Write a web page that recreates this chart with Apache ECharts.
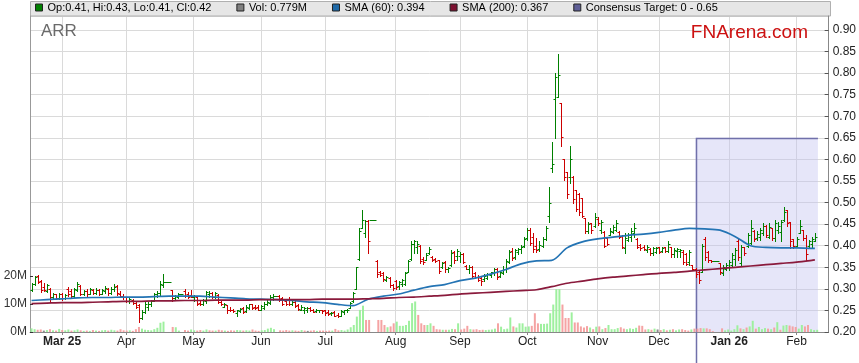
<!DOCTYPE html>
<html>
<head>
<meta charset="utf-8">
<script src="https://cdn.jsdelivr.net/npm/echarts/dist/echarts.min.js"></script>
<style>
  html, body { margin: 0; padding: 0; background: #ffffff; }
  #chart { width: 859px; height: 363px; }
</style>
</head>
<body>
<div id="chart"></div>
<script>
// ---------------- DATA ----------------
const ticker = 'ARR';
const firstDay = '2025-02-17';      // first trading day shown
const axisEndDay = '2026-02-16';    // axis runs a few empty days past the last bar

// month-start tick dates and their labels
const tickDates  = ['2025-03-03','2025-04-01','2025-05-01','2025-06-02','2025-07-01','2025-08-01',
                    '2025-09-01','2025-10-01','2025-11-03','2025-12-01','2026-01-01','2026-02-02'];
const tickLabels = ['Mar 25','Apr','May','Jun','Jul','Aug','Sep','Oct','Nov','Dec','Jan 26','Feb'];

const open = [
 .298,.312,.330,.318,.305,.296,.300,.280,.287,.279,
 .288,.278,.300,.296,.284,.298,.306,.288,.295,.288,
 .297,.291,.298,.289,.295,.300,.290,.300,.307,.289,
 .284,.280,.272,.275,.268,.262,.232,.247,.258,.266,
 .272,.288,.290,.310,.315,.315,.298,.278,.282,.287,
 .296,.288,.286,.280,.280,.268,.264,.272,.288,.290,
 .282,.286,.270,.258,.262,.252,.250,.244,.248,.256,
 .248,.256,.264,.258,.258,.252,.256,.264,.268,.280,
 .284,.284,.278,.272,.275,.266,.270,.262,.252,.252,
 .250,.256,.252,.248,.250,.250,.250,.246,.244,.246,
 .240,.236,.246,.250,.256,.272,.300,.370,.440,.430,
 .458,.460,.460,.365,.338,.336,.320,.326,.310,.318,
 .306,.312,.312,.340,.370,.405,.398,.400,.370,.368,
 .382,.375,.370,.366,.350,.362,.345,.356,.385,.376,
 .376,.380,.354,.347,.350,.336,.328,.326,.322,.326,
 .332,.336,.345,.330,.336,.346,.362,.388,.374,.385,
 .392,.400,.418,.436,.420,.400,.392,.400,.415,.470,
 .580,.740,.745,.730,.600,.570,.560,.560,.530,.520,
 .510,.465,.435,.452,.445,.462,.436,.432,.418,.426,
 .432,.436,.432,.422,.395,.414,.420,.430,.415,.402,
 .398,.390,.392,.384,.386,.396,.388,.396,.388,.398,
 .380,.388,.388,.386,.380,.362,.355,.346,.340,.340,
 .415,.386,.366,.365,.365,.360,.336,.346,.350,.356,
 .370,.410,.360,.398,.400,.406,.434,.418,.420,.430,
 .446,.420,.440,.418,.436,.432,.460,.483,.455,.415,
 .400,.430,.437,.417,.400,.404,.410
];
const high = [
 .313,.330,.331,.320,.313,.312,.302,.290,.289,.290,
 .290,.288,.304,.300,.302,.317,.308,.298,.300,.302,
 .300,.302,.300,.300,.306,.302,.304,.311,.309,.296,
 .288,.281,.278,.277,.272,.266,.250,.270,.270,.274,
 .290,.294,.318,.335,.315,.315,.298,.286,.290,.287,
 .300,.292,.297,.286,.282,.272,.276,.296,.294,.292,
 .292,.288,.272,.267,.262,.258,.254,.252,.256,.258,
 .262,.266,.265,.262,.262,.262,.270,.274,.286,.288,
 .284,.286,.280,.274,.280,.274,.272,.264,.262,.258,
 .258,.258,.254,.254,.252,.252,.252,.250,.246,.248,
 .244,.251,.252,.253,.270,.292,.351,.440,.482,.460,
 .460,.460,.460,.368,.342,.340,.330,.328,.312,.320,
 .318,.322,.340,.368,.412,.413,.410,.402,.375,.382,
 .398,.376,.372,.368,.362,.364,.350,.390,.388,.392,
 .386,.382,.355,.356,.352,.338,.332,.328,.334,.337,
 .340,.349,.348,.342,.352,.370,.390,.394,.392,.394,
 .402,.421,.440,.440,.430,.417,.410,.421,.446,.537,
 .640,.800,.845,.730,.602,.572,.630,.562,.530,.522,
 .510,.465,.455,.452,.475,.466,.460,.433,.421,.440,
 .448,.460,.433,.425,.430,.430,.440,.452,.417,.405,
 .402,.402,.394,.398,.398,.398,.398,.398,.410,.398,
 .394,.394,.392,.390,.382,.390,.355,.348,.344,.405,
 .420,.388,.368,.365,.365,.360,.355,.359,.367,.382,
 .394,.417,.402,.398,.429,.460,.437,.433,.440,.452,
 .448,.452,.440,.460,.456,.460,.490,.483,.456,.415,
 .421,.460,.437,.425,.413,.421,.430
];
const low = [
 .296,.310,.313,.292,.294,.292,.270,.276,.276,.276,
 .275,.276,.284,.282,.282,.296,.285,.286,.284,.287,
 .288,.288,.285,.287,.291,.286,.288,.296,.286,.282,
 .276,.270,.268,.266,.255,.224,.230,.245,.252,.260,
 .272,.282,.286,.305,.315,.315,.272,.274,.278,.287,
 .282,.278,.280,.272,.262,.262,.262,.268,.280,.278,
 .278,.268,.262,.257,.245,.248,.246,.238,.246,.243,
 .246,.254,.254,.254,.250,.250,.254,.262,.266,.274,
 .284,.272,.262,.262,.262,.262,.258,.252,.250,.243,
 .246,.248,.246,.246,.246,.244,.240,.240,.240,.236,
 .234,.236,.242,.246,.256,.270,.299,.368,.440,.421,
 .382,.460,.460,.328,.330,.318,.318,.305,.298,.300,
 .300,.306,.309,.338,.367,.382,.383,.360,.358,.366,
 .380,.365,.362,.336,.348,.340,.340,.352,.360,.368,
 .362,.360,.345,.337,.325,.325,.318,.309,.318,.324,
 .328,.332,.324,.328,.334,.340,.360,.367,.370,.380,
 .384,.398,.413,.402,.386,.386,.388,.398,.413,.456,
 .572,.649,.745,.630,.552,.510,.545,.500,.480,.472,
 .466,.430,.430,.430,.444,.448,.430,.396,.402,.425,
 .429,.433,.417,.394,.382,.410,.410,.420,.394,.390,
 .390,.386,.379,.379,.382,.382,.386,.386,.386,.375,
 .375,.375,.373,.358,.355,.355,.344,.328,.314,.338,
 .367,.363,.363,.365,.365,.334,.332,.344,.344,.351,
 .355,.367,.352,.378,.398,.405,.410,.413,.413,.425,
 .420,.417,.413,.410,.429,.410,.458,.445,.394,.394,
 .398,.429,.413,.367,.398,.398,.410
];
const close = [
 .312,.328,.316,.298,.298,.308,.282,.287,.279,.288,
 .278,.286,.288,.284,.300,.312,.288,.295,.287,.299,
 .291,.298,.288,.297,.302,.290,.300,.305,.290,.284,
 .280,.272,.276,.268,.258,.232,.247,.265,.266,.272,
 .288,.291,.312,.315,.315,.315,.278,.284,.287,.287,
 .284,.280,.282,.284,.266,.264,.274,.292,.290,.282,
 .290,.270,.264,.266,.251,.250,.248,.250,.254,.246,
 .258,.264,.256,.255,.252,.260,.266,.270,.282,.284,
 .284,.274,.266,.265,.264,.270,.260,.254,.258,.256,
 .256,.250,.247,.252,.250,.248,.244,.242,.244,.238,
 .236,.249,.250,.252,.268,.290,.350,.435,.460,.458,
 .410,.460,.460,.335,.332,.322,.328,.308,.302,.304,
 .316,.320,.336,.365,.405,.410,.405,.365,.362,.378,
 .392,.367,.364,.342,.360,.345,.348,.384,.366,.388,
 .380,.362,.347,.350,.330,.328,.320,.318,.330,.334,
 .338,.345,.328,.338,.346,.365,.385,.372,.390,.392,
 .398,.416,.436,.406,.392,.390,.402,.415,.440,.500,
 .590,.790,.796,.653,.560,.520,.600,.508,.485,.478,
 .470,.435,.450,.436,.466,.452,.455,.400,.405,.435,
 .444,.452,.420,.398,.418,.425,.434,.440,.398,.395,
 .392,.398,.384,.394,.394,.386,.394,.388,.404,.380,
 .390,.392,.390,.362,.358,.386,.346,.335,.320,.400,
 .375,.366,.365,.365,.365,.340,.350,.356,.362,.378,
 .390,.375,.398,.382,.424,.440,.416,.428,.436,.446,
 .425,.444,.418,.452,.446,.455,.478,.452,.410,.400,
 .415,.446,.418,.380,.410,.416,.420
];
// daily volume, millions of shares
const volumeM = [
 1.3,1.0,0.8,0.9,0.5,0.7,1.0,0.6,0.5,1.1,
 0.7,0.6,0.9,0.5,0.6,0.9,0.6,0.4,0.5,0.4,
 0.7,0.5,0.4,0.6,0.7,0.5,0.8,0.6,0.5,1.0,
 0.6,0.5,0.6,0.4,1.0,1.8,1.2,0.8,0.7,0.6,
 1.0,1.5,3.3,3.7,0,0,1.8,1.7,0.5,0,
 0.7,0.5,0.9,0.6,0.5,0.7,0.5,0.9,0.6,0.5,
 0.5,0.8,0.6,0.5,0.4,0.6,0.5,0.7,0.6,0.5,
 0.6,0.5,0.9,0.5,0.4,0.6,0.7,1.2,1.5,1.0,
 0,0.6,0.5,0.7,0.5,0.6,0.5,0.4,0.7,0.5,
 0.4,0.5,0.6,0.4,0.5,0.5,0.4,0.5,0.5,1.1,
 0.6,0.7,0.5,0.9,1.7,2.5,5.5,7.9,9.4,4.3,
 4.3,0,0,4.3,4.3,2.5,1.7,2.0,3.1,3.7,
 2.2,2.2,2.5,4.0,10.3,10.9,6.1,3.1,2.5,2.5,
 3.1,2.2,1.0,0.9,0.8,0.8,0.8,1.1,1.0,3.1,
 0.9,1.2,2.2,1.0,0.9,1.0,0.7,0.8,0.7,0.8,
 0.9,1.2,3.1,1.9,1.0,1.2,5.2,2.0,1.6,3.1,
 3.1,1.9,2.0,2.2,6.7,3.1,2.9,2.9,3.0,6.7,
 9.8,15.3,15.3,9.8,5.0,5.0,7.0,3.4,3.4,2.0,
 1.6,2.1,1.6,1.0,1.9,2.0,1.0,1.4,2.5,1.0,
 1.0,1.4,1.7,1.2,1.0,1.3,1.1,1.5,2.3,2.2,
 0.9,1.0,0.8,1.2,0.9,0.7,1.0,0.6,0.8,1.0,
 0.6,0.9,1.0,0.7,0.5,0.9,1.2,1.2,1.4,1.3,
 1.3,1.0,0.3,0,0,1.3,0.6,0.9,0.5,1.0,
 2.4,1.3,1.0,1.6,2.0,4.0,1.2,1.8,1.0,1.4,
 1.2,1.0,1.6,3.5,0.8,2.3,2.5,2.3,2.0,1.8,
 1.2,2.5,2.0,2.5,1.0,0.7,0.779
];
const smaStep = 5;
const sma60 = [
 .273,.275,.277,.279,.280,.280,.281,.281,.282,.283,
 .283,.283,.281,.279,.277,.276,.275,.273,.270,.268,
 .264,.261,.276,.283,.288,.297,.305,.310,.319,.325,
 .334,.345,.358,.365,.366,.395,.409,.416,.420,.424,
 .427,.431,.436,.440,.439,.436,.421,.400,.396,.395,
 .395,.394,.394
];
const sma200 = [
 .266,.267,.268,.268,.269,.270,.271,.271,.272,.272,
 .273,.273,.274,.274,.274,.275,.275,.275,.275,.276,
 .276,.276,.277,.278,.280,.281,.283,.285,.288,.290,
 .292,.294,.296,.298,.305,.313,.318,.323,.327,.330,
 .333,.336,.338,.341,.344,.347,.350,.353,.356,.359,
 .362,.366,.367
];
// consensus target band (runs from targetStart to the end of the last trading day)
const targetStart = '2025-12-17';
const targetLow = 0;
const targetHigh = 0.65;

// ---------------- BUILD ----------------
function weekdays(a, b) {
  const out = [];
  const d = new Date(a + 'T00:00:00Z'), e = new Date(b + 'T00:00:00Z');
  while (d <= e) {
    const w = d.getUTCDay();
    if (w !== 0 && w !== 6) out.push(d.toISOString().slice(0, 10));
    d.setUTCDate(d.getUTCDate() + 1);
  }
  return out;
}
const dates = weekdays(firstDay, axisEndDay);
const last = close.length - 1;
const lastDate = dates[last];
const targetEnd = dates[last + 1];

const FONT = '"Liberation Sans", Arial, sans-serif';
const UP = '#008000', DOWN = '#cc0000';
const VOL_UP = '#9ef09e', VOL_DOWN = '#f5a3a3', VOL_FLAT = '#8c8c8c';
const W = 859, H = 363;
const GL = 30, GR = 28, GT = 16, GB = 31;

const f2 = v => v.toFixed(2);
const nameOHLC = `Op:${f2(open[last])}, Hi:${f2(high[last])}, Lo:${f2(low[last])}, Cl:${f2(close[last])}`;
const nameVol = `Vol: ${volumeM[last].toFixed(3)}M`;
const nameS60 = `SMA (60): ${sma60[sma60.length - 1].toFixed(3)}`;
const nameS200 = `SMA (200): ${sma200[sma200.length - 1].toFixed(3)}`;
const nameTarget = `Consensus Target: ${targetLow} - ${targetHigh}`;

const ohlcData = open.map((o, i) => [i, o, high[i], low[i], close[i]]);
const volData = volumeM.map((v, i) => {
  const prev = i > 0 ? close[i - 1] : open[i];
  const col = close[i] > prev ? VOL_UP : (close[i] < prev ? VOL_DOWN : VOL_FLAT);
  return { value: v, itemStyle: { color: col } };
});
const smaIdx = k => Math.min(k * smaStep, last);
const sma60Data = sma60.map((v, k) => [smaIdx(k), v]);
const sma200Data = sma200.map((v, k) => [smaIdx(k), v]);

const tickSet = new Set(tickDates);
const isTick = (idx, val) => tickSet.has(val);

const chart = echarts.init(document.getElementById('chart'), null, { renderer: 'canvas' });

const option = {
  animation: false,
  backgroundColor: '#ffffff',
  textStyle: { fontFamily: FONT },
  title: [
    { text: ticker, left: 36, top: 18, textStyle: { fontFamily: FONT, fontSize: 17, fontWeight: 'normal', color: '#6a6a6a' } },
    { text: 'FNArena.com', right: 46, top: 18, textStyle: { fontFamily: FONT, fontSize: 19, fontWeight: 'normal', color: '#cc1111' } }
  ],
  legend: {
    left: 35, top: 2, padding: 0, itemGap: 25, itemWidth: 7, itemHeight: 7,
    selectedMode: false,
    textStyle: { fontFamily: FONT, fontSize: 11, color: '#000' },
    data: [
      { name: nameOHLC, icon: 'rect', itemStyle: { color: UP, borderColor: '#222', borderWidth: 1 } },
      { name: nameVol, icon: 'rect', itemStyle: { color: '#808080', borderColor: '#222', borderWidth: 1 } },
      { name: nameS60, icon: 'rect', itemStyle: { color: '#1f6aa8', borderColor: '#222', borderWidth: 1 } },
      { name: nameS200, icon: 'rect', itemStyle: { color: '#7c1030', borderColor: '#222', borderWidth: 1 } },
      { name: nameTarget, icon: 'rect', itemStyle: { color: '#5e5e96', borderColor: '#222', borderWidth: 1 } }
    ]
  },
  grid: [
    { left: GL, right: GR, top: GT, bottom: GB },
    { left: GL, right: GR, top: 276, bottom: GB }
  ],
  xAxis: [
    {
      type: 'category', gridIndex: 0, data: dates, boundaryGap: true,
      axisLine: { show: true, lineStyle: { color: '#888' } },
      axisTick: { show: true, alignWithLabel: true, interval: isTick, length: 3, lineStyle: { color: '#888' } },
      axisLabel: {
        interval: isTick, margin: 4, fontSize: 12, color: '#222', fontFamily: FONT,
        formatter: v => {
          const t = tickLabels[tickDates.indexOf(v)] || '';
          return /\d/.test(t) ? '{b|' + t + '}' : t;
        },
        rich: { b: { fontWeight: 'bold', fontSize: 12, color: '#222', fontFamily: FONT } }
      },
      splitLine: { show: true, interval: isTick, alignWithLabel: true, lineStyle: { color: '#dadada', width: 1 } }
    },
    {
      type: 'category', gridIndex: 1, data: dates, boundaryGap: true, show: false
    }
  ],
  yAxis: [
    {
      type: 'value', gridIndex: 0, position: 'right', min: 0.2, max: 0.9325, interval: 0.05,
      axisLine: { show: true, lineStyle: { color: '#888' } },
      axisTick: { show: true, inside: true, length: 4, lineStyle: { color: '#555' } },
      axisLabel: { margin: 4, fontSize: 12, color: '#222', fontFamily: FONT, showMaxLabel: false, formatter: v => v.toFixed(2) },
      splitLine: { show: true, lineStyle: { color: '#dadada', width: 1 } }
    },
    {
      type: 'value', gridIndex: 1, position: 'left', min: 0, max: 20, interval: 10,
      axisLine: { show: true, lineStyle: { color: '#999' } },
      axisTick: { show: true, inside: true, length: 3, lineStyle: { color: '#333' } },
      axisLabel: { margin: 3, fontSize: 12, color: '#333', fontFamily: FONT, formatter: v => v + 'M' },
      splitLine: { show: false }
    },
    {
      type: 'value', gridIndex: 0, position: 'left', min: 0, max: 1,
      axisLine: { show: true, lineStyle: { color: '#999' } },
      axisTick: { show: false }, axisLabel: { show: false }, splitLine: { show: false }
    }
  ],
  series: [
    {
      name: nameTarget, type: 'line', xAxisIndex: 0, yAxisIndex: 0, data: [], z: 1,
      markArea: {
        silent: true,
        itemStyle: { color: 'rgba(196,196,240,0.42)' },
        data: [[{ coord: [targetStart, targetHigh] }, { coord: [targetEnd, targetLow] }]]
      }
    },
    {
      name: nameVol, type: 'bar', xAxisIndex: 1, yAxisIndex: 1, data: volData,
      barWidth: 2, z: 2, itemStyle: { color: VOL_FLAT }
    },
    {
      name: nameOHLC, type: 'custom', xAxisIndex: 0, yAxisIndex: 0, data: ohlcData, z: 3, clip: true,
      encode: { x: 0, y: [1, 2, 3, 4] },
      itemStyle: { color: UP },
      renderItem: (params, api) => {
        const i = api.value(0);
        const o = api.value(1), h = api.value(2), l = api.value(3), c = api.value(4);
        const p = api.coord([i, o]);
        const x = Math.round(p[0]);
        const yo = Math.round(p[1]) + 0.5;
        const yh = Math.round(api.coord([i, h])[1]);
        const yl = Math.round(api.coord([i, l])[1]) + 1;
        const yc = Math.round(api.coord([i, c])[1]) + 0.5;
        const st = { stroke: c >= o ? UP : DOWN, lineWidth: 1 };
        return {
          type: 'group',
          children: [
            { type: 'line', shape: { x1: x + 0.5, y1: yh, x2: x + 0.5, y2: yl }, style: st },
            { type: 'line', shape: { x1: x - 1.5, y1: yo, x2: x, y2: yo }, style: st },
            { type: 'line', shape: { x1: x + 1, y1: yc, x2: x + 2.5, y2: yc }, style: st }
          ]
        };
      }
    },
    {
      name: nameS60, type: 'line', xAxisIndex: 0, yAxisIndex: 0, data: sma60Data, z: 4,
      showSymbol: false, smooth: 0.3, lineStyle: { color: '#2474b4', width: 1.7 }, itemStyle: { color: '#2474b4' }
    },
    {
      name: nameS200, type: 'line', xAxisIndex: 0, yAxisIndex: 0, data: sma200Data, z: 4,
      showSymbol: false, smooth: 0.3, lineStyle: { color: '#8a1a3c', width: 1.7 }, itemStyle: { color: '#8a1a3c' }
    }
  ]
};
chart.setOption(option);

// header band and consensus target outline, positioned through the chart's own scales
const xT0 = Math.round(chart.convertToPixel({ xAxisIndex: 0 }, targetStart)) + 0.5;
const xT1 = chart.convertToPixel({ xAxisIndex: 0 }, targetEnd);
const yTop = Math.round(chart.convertToPixel({ yAxisIndex: 0 }, targetHigh)) + 0.5;
const yBot = chart.convertToPixel({ yAxisIndex: 0 }, targetLow);
chart.setOption({
  graphic: [
    {
      type: 'rect', z: 0, silent: true,
      shape: { x: GL + 0.5, y: 1.5, width: W - GL - GR - 1, height: GT - 1.5 },
      style: { fill: '#e6e6e6', stroke: '#b0b0b0', lineWidth: 1 }
    },
    {
      type: 'polyline', z: 2, silent: true,
      shape: { points: [[xT0, yBot], [xT0, yTop], [xT1, yTop]] },
      style: { stroke: '#7070aa', lineWidth: 1.5, fill: null }
    }
  ]
});
</script>
</body>
</html>
